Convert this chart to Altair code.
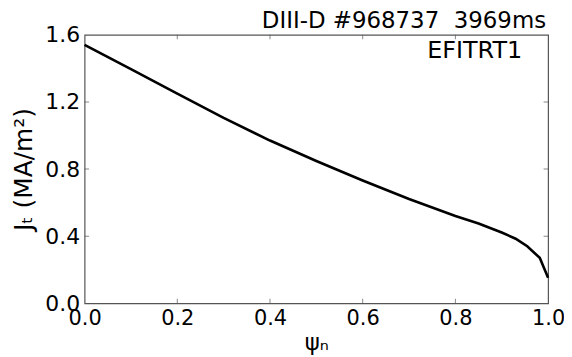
import altair as alt
import pandas as pd

# ---- data ----
psi = [0.0, 0.1, 0.2, 0.3, 0.4, 0.5, 0.6, 0.7, 0.8, 0.85, 0.9, 0.93, 0.955, 0.982, 1.0]
jt = [1.54, 1.395, 1.25, 1.105, 0.97, 0.848, 0.732, 0.622, 0.52, 0.476, 0.422, 0.385, 0.34, 0.271, 0.152]

x_labels = [0.0, 0.2, 0.4, 0.6, 0.8, 1.0]
y_labels = [0.0, 0.4, 0.8, 1.2, 1.6]
x_ticks = [0.2, 0.4, 0.6, 0.8]
y_ticks = [0.4, 0.8, 1.2]

title_text = "DIII-D #968737\u00a0 3969ms"
tag_text = "EFITRT1"
x_title = "ψₙ"
y_title = "Jₜ (MA/m²)"

W, H = 466, 270
FONT = "DejaVu Sans"
FRAME = "#555555"

df = pd.DataFrame({"psi": psi, "jt": jt})
xscale = alt.Scale(domain=[0, 1], nice=False, zero=False)
yscale = alt.Scale(domain=[0, 1.6], nice=False, zero=False)

xaxis = alt.Axis(values=x_labels, format=".1f", title=x_title,
                 labelFontSize=21, titleFontSize=23, labelPadding=4,
                 titlePadding=3, labelFlush=False, labelOverlap=False)
yaxis = alt.Axis(values=y_labels, format=".1f", title=y_title,
                 labelFontSize=22, titleFontSize=25, labelPadding=5,
                 titlePadding=8, labelFlush=False, labelOverlap=False)

line = alt.Chart(df).mark_line(color="black", strokeWidth=2.6).encode(
    x=alt.X("psi:Q", scale=xscale, axis=xaxis),
    y=alt.Y("jt:Q", scale=yscale, axis=yaxis),
)

xt_df = pd.DataFrame({"psi": x_ticks})
yt_df = pd.DataFrame({"jt": y_ticks})

def xtick(ypos):
    return alt.Chart(xt_df).mark_tick(clip=True, size=9, thickness=1, color=FRAME).encode(
        x=alt.X("psi:Q", scale=xscale, axis=xaxis), y=alt.value(ypos))

def ytick(xpos):
    return alt.Chart(yt_df).mark_tick(clip=True, size=9, thickness=1, color=FRAME).encode(
        y=alt.Y("jt:Q", scale=yscale, axis=yaxis), x=alt.value(xpos))

tag = alt.Chart(pd.DataFrame({"t": [tag_text]})).mark_text(
    align="right", baseline="alphabetic", fontSize=24, font=FONT, color="black"
).encode(text="t:N", x=alt.value(440), y=alt.value(23))

head = alt.Chart(pd.DataFrame({"t": [title_text]})).mark_text(
    align="right", baseline="alphabetic", fontSize=23, font=FONT, color="black"
).encode(text="t:N", x=alt.value(W - 2), y=alt.value(-7))

chart = alt.layer(
    line, xtick(H), xtick(0), ytick(0), ytick(W), tag, head
).properties(
    width=W, height=H,
    autosize=alt.AutoSizeParams(type="none"),
    padding={"left": 77, "top": 26, "right": 16, "bottom": 53},
).configure_view(
    stroke=FRAME, strokeWidth=1.2
).configure_axis(
    labelFont=FONT, titleFont=FONT, labelColor="black", titleColor="black",
    titleFontWeight="normal", domain=False, ticks=False, grid=False
)

chart.save("out.html", embed_options={"renderer": "svg", "actions": False})
